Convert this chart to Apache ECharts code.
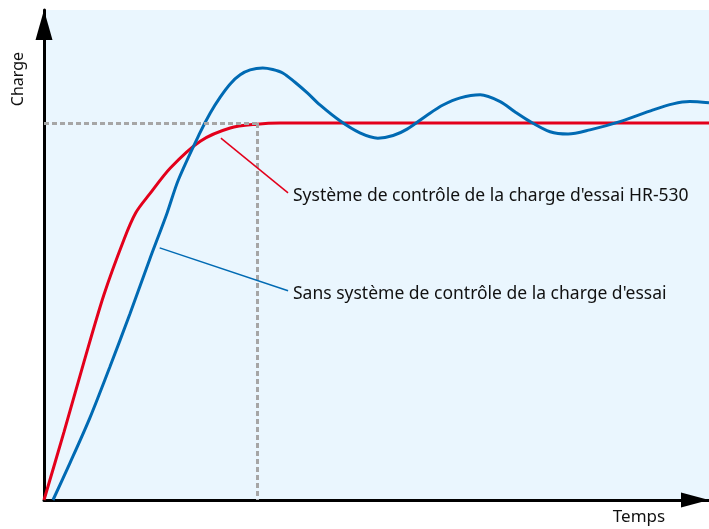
<!DOCTYPE html>
<html>
<head>
<meta charset="utf-8">
<script src="https://cdn.jsdelivr.net/npm/echarts@6/dist/echarts.min.js"></script>
<style>
  html, body { margin: 0; padding: 0; background: #fff; }
  #chart { width: 709px; height: 529px; }
</style>
</head>
<body>
<div id="chart"></div>
<script>
// time (0-100) / charge (0-130, plateau = 100)
var controlled = [
    [0, 0], [3.0, 18.0], [6.0, 36.6], [9.0, 54.4], [12.0, 69.0], [13.8, 76.2],
    [15.9, 81.2], [19.0, 88.1], [23.5, 95.2], [28.0, 98.7], [32.0, 99.7],
    [35.5, 100], [50, 100], [75, 100], [100, 100]
];
var uncontrolled = [
    [1.35, 0], [3.9, 9.8], [6.9, 21.8], [9.9, 35.3], [12.9, 49.3], [15.9, 63.9],
    [18.5, 76.1], [20.2, 84.9], [23.5, 97.6], [25.0, 102.7], [26.5, 106.9],
    [28.0, 110.4], [29.5, 112.8], [31.0, 114.1], [32.9, 114.6], [34.4, 114.2],
    [35.9, 113.3], [37.7, 110.9], [39.6, 108.0], [41.5, 104.8], [44.5, 100.6],
    [47.5, 97.4], [50.2, 96.0], [52.5, 96.7], [54.6, 98.4], [57.6, 102.1],
    [60.0, 104.8], [62.6, 106.7], [65.6, 107.5], [68.6, 105.7], [70.8, 103.0],
    [73.1, 100.4], [76.1, 97.7], [78.8, 97.1], [82.1, 98.2], [86.6, 100.4],
    [91.6, 103.5], [94.6, 105.1], [97.1, 105.7], [100, 105.4]
];
var plateau = 100;
var settleTime = 32.1;
var labelControlled = 'Système de contrôle de la charge d\'essai HR-530';
var labelUncontrolled = 'Sans système de contrôle de la charge d\'essai';
// leader lines: [start, end] in data coordinates
var leaderControlled = [[26.6, 96.0], [36.7, 81.5]];
var leaderUncontrolled = [[17.4, 66.9], [36.7, 55.5]];

var chart = echarts.init(document.getElementById('chart'));
var font = '"Noto Sans", sans-serif';

var option = {
    animation: false,
    grid: {
        left: 44, right: 0, top: 10, bottom: 29,
        show: true, backgroundColor: '#eaf6fe', borderWidth: 0
    },
    xAxis: {
        type: 'value', min: 0, max: 100,
        axisLine: {
            onZero: false,
            lineStyle: { color: '#000', width: 3 },
            symbol: ['none', 'triangle'], symbolSize: [15, 28], symbolOffset: [0, -14]
        },
        axisTick: { show: false }, axisLabel: { show: false }, splitLine: { show: false }
    },
    yAxis: {
        type: 'value', min: 0, max: 130,
        axisLine: {
            show: true, onZero: false,
            lineStyle: { color: '#000', width: 3 },
            symbol: ['none', 'triangle'], symbolSize: [17, 30], symbolOffset: [0, -15]
        },
        axisTick: { show: false }, axisLabel: { show: false }, splitLine: { show: false }
    },
    series: [
        {
            name: 'guides', type: 'line', data: [], z: 1,
            markLine: {
                silent: true, symbol: 'none', animation: false,
                lineStyle: { color: '#a6a6a6', width: 3, type: [5, 3] },
                label: { show: false },
                data: [
                    [{ coord: [0, plateau] }, { coord: [settleTime, plateau] }],
                    [{ coord: [settleTime, plateau] }, { coord: [settleTime, 0] }]
                ]
            }
        },
        {
            name: 'leaders', type: 'line', data: [], z: 1,
            markLine: {
                silent: true, symbol: 'none', animation: false,
                label: { show: false },
                data: [
                    [{ coord: leaderControlled[0], lineStyle: { color: '#e3001b', width: 1.5, type: 'solid' } },
                     { coord: leaderControlled[1] }],
                    [{ coord: leaderUncontrolled[0], lineStyle: { color: '#006ab3', width: 1.5, type: 'solid' } },
                     { coord: leaderUncontrolled[1] }]
                ]
            }
        },
        {
            name: labelControlled, type: 'line', data: controlled, z: 3,
            smooth: 0.3, showSymbol: false,
            lineStyle: { color: '#e3001b', width: 3 }
        },
        {
            name: labelUncontrolled, type: 'line', data: uncontrolled, z: 4,
            smooth: 0.3, showSymbol: false,
            lineStyle: { color: '#006ab3', width: 3 }
        }
    ],
    graphic: [
        { type: 'text', x: 18, y: 79, rotation: Math.PI / 2,
          style: { text: 'Charge', font: '16px ' + font, fill: '#111', align: 'center', verticalAlign: 'middle' } },
        { type: 'text', x: 639, y: 517,
          style: { text: 'Temps', font: '17px ' + font, fill: '#111', align: 'center', verticalAlign: 'middle' } },
        { type: 'text', x: 293, y: 196,
          style: { text: labelControlled, font: '17.5px ' + font, fill: '#111', align: 'left', verticalAlign: 'middle' } },
        { type: 'text', x: 293, y: 294,
          style: { text: labelUncontrolled, font: '17.5px ' + font, fill: '#111', align: 'left', verticalAlign: 'middle' } }
    ]
};

chart.setOption(option);
</script>
</body>
</html>
